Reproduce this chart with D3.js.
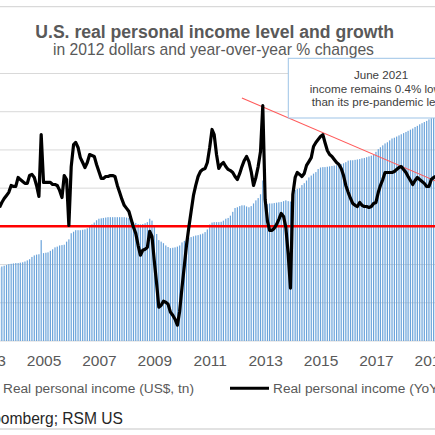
<!DOCTYPE html>
<head>
    <meta charset="utf-8">
    <script src="https://d3js.org/d3.v7.min.js"></script>
    <style>
      body { margin: 0; background: #fff; }
      text { font-family: "Liberation Sans", Arial, sans-serif; fill: #595959; }
      .charttitle { font-size: 17.6px; font-weight: bold; }
      .subtitle { font-size: 15.7px; }
      .note { font-size: 11.6px; fill: #404040; }
      .legend { font-size: 13.7px; }
      .source { font-size: 15.6px; fill: #262626; }
    </style>
<body>
    <script>
        // level, US$ tn, monthly from Jan 2003
        var levelStart = new Date(2003, 0, 1)
        var incomeLevel = [
          11.85, 11.86, 11.87, 11.88, 11.90, 11.92, 11.95, 11.97, 11.99, 12.01, 12.02, 12.03,
          12.04, 12.04, 12.05, 12.06, 12.08, 12.11, 12.14, 12.20, 12.24, 12.26, 12.27, 12.64,
          12.30, 12.31, 12.32, 12.36, 12.40, 12.45, 12.47, 12.50, 12.51, 12.52, 12.60, 12.66,
          12.82, 12.86, 12.90, 12.90, 12.90, 12.91, 12.92, 12.95, 13.00, 13.05, 13.10, 13.16,
          13.20, 13.21, 13.22, 13.23, 13.24, 13.24, 13.24, 13.24, 13.24, 13.24, 13.24, 13.24,
          13.23, 13.22, 13.18, 13.11, 13.09, 13.06, 13.05, 13.06, 13.08, 13.11, 13.20, 13.15,
          13.03, 12.80, 12.64, 12.60, 12.56, 12.50, 12.46, 12.43, 12.44, 12.45, 12.47, 12.50,
          12.58, 12.62, 12.66, 12.70, 12.72, 12.74, 12.76, 12.77, 12.79, 12.81, 12.85, 12.92,
          13.05, 13.10, 13.11, 13.11, 13.11, 13.12, 13.15, 13.20, 13.22, 13.28, 13.38, 13.48,
          13.50, 13.53, 13.55, 13.55, 13.52, 13.50, 13.53, 13.60, 13.68, 13.74, 13.84, 14.20,
          13.55, 13.58, 13.60, 13.60, 13.61, 13.62, 13.63, 13.64, 13.66, 13.68, 13.66, 13.65,
          13.90, 13.95, 13.98, 14.00, 14.08, 14.13, 14.20, 14.28, 14.33, 14.38, 14.42, 14.50,
          14.54, 14.55, 14.55, 14.56, 14.57, 14.58, 14.59, 14.60, 14.61, 14.63, 14.65, 14.68,
          14.72, 14.73, 14.73, 14.74, 14.75, 14.76, 14.78, 14.79, 14.81, 14.83, 14.85, 14.87,
          14.95, 15.02, 15.07, 15.12, 15.17, 15.20, 15.25, 15.30, 15.32, 15.35, 15.38, 15.41,
          15.44, 15.47, 15.50, 15.53, 15.56, 15.60, 15.63, 15.67, 15.70, 15.73, 15.76, 15.80,
          15.83, 15.86, 15.88, 15.90
        ]
        // YoY %, monthly from Jun 2003
        var yoyStart = new Date(2003, 5, 1)
        var incomeYoY = [
          0.99, 1.25, 1.46, 1.62, 1.78, 2.14, 2.09,
          2.09, 2.56, 2.45, 2.35, 2.25, 2.25, 2.66, 2.72, 2.56, 2.14, 1.57, 4.80,
          2.30, 2.30, 2.30, 2.30, 2.19, 2.19, 2.14, 1.88, 1.51, 2.66, 2.45, 0.05,
          3.13, 4.28, 4.39, 4.13, 3.60, 3.34, 3.08, 3.34, 3.76, 3.71, 3.66, 3.24,
          2.87, 2.51, 2.51, 2.61, 2.61, 2.66, 2.66, 2.61, 2.14, 1.78, 1.41, 1.10,
          0.94, 0.78, 0.37, -0.05, -0.37, -0.99, -1.51, -1.25, -1.20, -1.10, -0.26, -0.52,
          -1.83, -3.03, -4.23, -4.13, -3.92, -3.97, -4.07, -4.49, -4.65, -4.86, -5.17, -4.44,
          -3.19, -2.04, -0.99, -0.05, 0.78, 1.62, 2.14, 2.61, 2.87, 2.98, 3.03, 3.34,
          4.13, 5.07, 4.80, 3.76, 3.03, 3.24, 3.34, 3.13, 2.98, 2.92, 2.82, 2.61,
          2.45, 2.77, 3.13, 3.45, 3.66, 3.39, 2.87, 2.14, 2.56, 3.13, 3.92, 6.32,
          1.41, 0.26, -0.21, -0.21, -0.10, 0.10, 0.37, 0.68, 0.52, -0.05, -1.46, -3.24,
          1.67, 2.56, 2.82, 2.72, 2.61, 2.77, 3.19, 3.39, 3.60, 4.18, 4.39, 4.54,
          4.70, 4.80, 4.39, 3.97, 3.76, 3.66, 3.50, 3.34, 3.24, 3.03, 2.66, 2.14,
          1.78, 1.46, 1.20, 1.10, 1.04, 1.25, 1.10, 1.04, 1.04, 0.99, 1.04, 1.20,
          1.25, 1.78, 2.14, 2.45, 2.82, 2.82, 2.82, 2.82, 2.87, 2.98, 3.08, 3.13,
          2.98, 2.82, 2.61, 2.40, 2.19, 2.40, 2.56, 2.45, 2.35, 2.25, 2.09, 2.09,
          2.45, 2.56, 2.61
        ]
        var trend = [{date: new Date(2012, 2, 1), v: 6.72}, {date: new Date(2021, 5, 1), v: 0.97}]
        var yearTicks = [2003, 2005, 2007, 2009, 2011, 2013, 2015, 2017, 2019, 2021]
        var levelTicks = [10, 11, 12, 13, 14, 15, 16, 17]
        var noteLines = ["June 2021", "income remains 0.4% lower", "than its pre-pandemic level"]
        var titleText = "U.S. real personal income level and growth"
        var subtitleText = "in 2012 dollars and year-over-year % changes"
        var legendLevel = "Real personal income (US$, tn)"
        var legendYoY = "Real personal income (YoY)"
        var sourceText = "Source: Bloomberg; RSM US"

        var svg_w = 435, svg_h = 435
        var svg = d3.select("body").append("svg")
          .attr("width", svg_w)
          .attr("height", svg_h)

        var x = d3.scaleTime()
          .domain([new Date(2003, 0, 1), new Date(2019, 0, 1)])
          .range([-11.9, 431.3])
        var yL = d3.scaleLinear().domain([10, 17]).range([341, 73.5])
        var yR = d3.scaleLinear().domain([-6, 8]).range([341, 73.5])

        // frame
        svg.append("line").attr("x1", -50).attr("x2", 500).attr("y1", 6.7).attr("y2", 6.7)
          .attr("stroke", "#d9d9d9").attr("stroke-width", 1.3)
        svg.append("line").attr("x1", -50).attr("x2", 500).attr("y1", 429).attr("y2", 429)
          .attr("stroke", "#d9d9d9").attr("stroke-width", 1.3)

        // titles
        svg.append("text").attr("class", "charttitle").attr("x", 214.7).attr("y", 38.3)
          .attr("text-anchor", "middle").text(titleText)
        svg.append("text").attr("class", "subtitle").attr("x", 213.5).attr("y", 55)
          .attr("text-anchor", "middle").text(subtitleText)

        // gridlines
        svg.append("g").selectAll("line").data(levelTicks).enter().append("line")
          .attr("x1", -50).attr("x2", 500)
          .attr("y1", function(d){return yL(d)}).attr("y2", function(d){return yL(d)})
          .attr("stroke", "#d9d9d9").attr("stroke-width", 1)

        // bars
        var levelData = incomeLevel.map(function(v, i){
          return {date: d3.timeMonth.offset(levelStart, i), v: v}
        })
        svg.append("g").selectAll("rect").data(levelData).enter().append("rect")
          .attr("x", function(d){return x(d.date) - 0.6})
          .attr("width", 1.2)
          .attr("y", function(d){return yL(d.v)})
          .attr("height", function(d){return yL(10) - yL(d.v)})
          .attr("fill", "#6aa3da")

        // zero line
        svg.append("line").attr("x1", -50).attr("x2", 500)
          .attr("y1", yR(0)).attr("y2", yR(0))
          .attr("stroke", "#ff0000").attr("stroke-width", 2.5)

        // trend line
        svg.append("line")
          .attr("x1", x(trend[0].date)).attr("y1", yR(trend[0].v))
          .attr("x2", x(trend[1].date)).attr("y2", yR(trend[1].v))
          .attr("stroke", "#ff5a5a").attr("stroke-width", 1.1)

        // yoy line
        var yoyData = incomeYoY.map(function(v, i){
          return {date: d3.timeMonth.offset(yoyStart, i), v: v}
        })
        svg.append("path").datum(yoyData)
          .attr("d", d3.line().x(function(d){return x(d.date)}).y(function(d){return yR(d.v)}))
          .attr("fill", "none").attr("stroke", "#000").attr("stroke-width", 3.2)
          .attr("stroke-linejoin", "round")

        // x axis
        var xAxis = d3.axisBottom(x)
          .tickValues(yearTicks.map(function(y){return new Date(y, 0, 1)}))
          .tickFormat(d3.timeFormat("%Y"))
          .tickSize(0).tickPadding(14)
        var gx = svg.append("g").attr("transform", "translate(0,341)").call(xAxis)
        gx.select(".domain").remove()
        gx.selectAll("text").attr("font-family", null).attr("font-size", null)
          .style("font-size", "15.5px").style("fill", "#595959")

        // annotation
        var note = svg.append("g")
        note.append("rect").attr("x", 288.3).attr("y", 58.3).attr("width", 186).attr("height", 59.7)
          .attr("fill", "#fff").attr("stroke", "#9dc3e6").attr("stroke-width", 1)
        note.selectAll("text").data(noteLines).enter().append("text")
          .attr("class", "note").attr("x", 381).attr("text-anchor", "middle")
          .attr("y", function(d, i){return 79.3 + i * 13.4})
          .text(function(d){return d})

        // legend
        svg.append("rect").attr("x", -16).attr("y", 383).attr("width", 10).attr("height", 10)
          .attr("fill", "#6aa3da")
        svg.append("text").attr("class", "legend").attr("x", 3).attr("y", 393).text(legendLevel)
        svg.append("line").attr("x1", 230).attr("x2", 269).attr("y1", 388.3).attr("y2", 388.3)
          .attr("stroke", "#000").attr("stroke-width", 3)
        svg.append("text").attr("class", "legend").attr("x", 273).attr("y", 393).text(legendYoY)

        // source
        svg.append("text").attr("class", "source").attr("x", 123).attr("y", 424)
          .attr("text-anchor", "end").text(sourceText)
    </script>
</body>
